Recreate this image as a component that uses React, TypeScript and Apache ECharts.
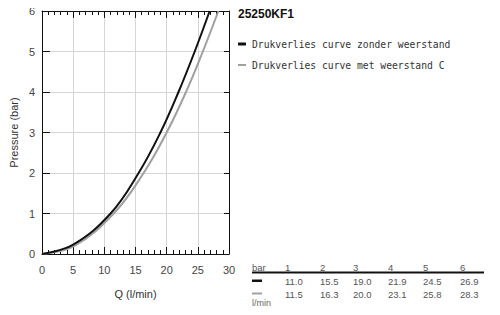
import React, { useEffect, useRef } from "react";
import * as echarts from "echarts";

const title = "25250KF1";
const seriesNames = ["Drukverlies curve zonder weerstand", "Drukverlies curve met weerstand C"];
const pressures = [0, 0.23, 1, 2, 3, 4, 5, 6];
const pressuresGray = [0, 0.2, 1, 2, 3, 4, 5, 6];
const flowBlack = [0, 5, 11.0, 15.5, 19.0, 21.9, 24.5, 26.9];
const flowGray = [0, 5.2, 11.5, 16.3, 20.0, 23.1, 25.8, 28.3];
const tableHeader = ["1", "2", "3", "4", "5", "6"];
const tableBlack = ["11.0", "15.5", "19.0", "21.9", "24.5", "26.9"];
const tableGray = ["11.5", "16.3", "20.0", "23.1", "25.8", "28.3"];
const colors = ["#111111", "#a0a0a0"];

export default function App() {
  const ref = useRef<HTMLDivElement>(null);
  useEffect(() => {
    if (!ref.current) return;
    const chart = echarts.init(ref.current, null, { renderer: "svg" });
    const font = "'Liberation Sans', Arial, sans-serif";
    const colX = [285, 320, 353, 388, 423, 460];
    const graphics: any[] = [];
    graphics.push({ type: "text", left: 238, top: 8, style: { text: title, font: `bold 12px ${font}`, fill: "#111" } });
    seriesNames.forEach((n, i) => {
      const y = 44 + i * 21;
      graphics.push({ type: "rect", shape: { x: 238, y: y - (i === 0 ? 1.5 : 1), width: 8, height: i === 0 ? 3 : 2 }, style: { fill: colors[i] } });
      graphics.push({ type: "text", x: 252, y, style: { text: n, font: `9.7px 'DejaVu Sans Mono', monospace`, fill: "#333", textVerticalAlign: "middle" } });
    });
    const tf = `9.5px ${font}`;
    graphics.push({ type: "text", x: 252, y: 267, style: { text: "bar", font: tf, fill: "#555", textVerticalAlign: "middle" } });
    tableHeader.forEach((t, i) => graphics.push({ type: "text", x: colX[i], y: 267, style: { text: t, font: tf, fill: "#555", textVerticalAlign: "middle" } }));
    graphics.push({ type: "line", shape: { x1: 252, y1: 272.5, x2: 484, y2: 272.5 }, style: { stroke: "#111", lineWidth: 2 } });
    graphics.push({ type: "rect", shape: { x: 252, y: 279.5, width: 10, height: 2.5 }, style: { fill: colors[0] } });
    graphics.push({ type: "rect", shape: { x: 252, y: 292.5, width: 10, height: 2 }, style: { fill: colors[1] } });
    tableBlack.forEach((t, i) => graphics.push({ type: "text", x: colX[i], y: 281, style: { text: t, font: tf, fill: "#555", textVerticalAlign: "middle" } }));
    tableGray.forEach((t, i) => graphics.push({ type: "text", x: colX[i], y: 294, style: { text: t, font: tf, fill: "#555", textVerticalAlign: "middle" } }));
    graphics.push({ type: "text", x: 252, y: 303, style: { text: "l/min", font: `9px ${font}`, fill: "#666", textVerticalAlign: "middle" } });

    const baseX = {
      type: "value", min: 0, max: 30, interval: 5,
      axisLine: { show: true, onZero: false, lineStyle: { color: "#111", width: 1 } },
      axisTick: { show: true, inside: true, length: 7, lineStyle: { color: "#111" } },
      minorTick: { show: true, splitNumber: 5, length: 4, lineStyle: { color: "#111" } },
    };
    const baseY = {
      type: "value", min: 0, max: 6, interval: 1,
      axisLine: { show: true, onZero: false, lineStyle: { color: "#111", width: 1 } },
      axisTick: { show: true, inside: true, length: 8, lineStyle: { color: "#111" } },
    };
    chart.setOption({
      animation: false,
      textStyle: { fontFamily: font },
      grid: { left: 42, top: 11, width: 187, height: 243 },
      xAxis: [
        { ...baseX, position: "bottom", name: "Q (l/min)", nameLocation: "middle", nameGap: 34,
          nameTextStyle: { fontSize: 11, color: "#333", fontFamily: font },
          axisLabel: { fontSize: 11, color: "#444", margin: 10 },
          splitLine: { show: true, lineStyle: { color: "#d6d6d6" } } },
        { ...baseX, position: "top", axisLabel: { show: false }, splitLine: { show: false } },
      ],
      yAxis: [
        { ...baseY, position: "left", name: "Pressure (bar)", nameLocation: "middle", nameGap: 23,
          nameTextStyle: { fontSize: 11, color: "#333", fontFamily: font },
          axisLabel: { fontSize: 11, color: "#444", margin: 7 },
          splitLine: { show: true, lineStyle: { color: "#d6d6d6" } } },
        { ...baseY, position: "right", axisLabel: { show: false }, splitLine: { show: false }, axisTick: { show: true, inside: true, length: 5, lineStyle: { color: "#111" } } },
      ],
      graphic: graphics,
      series: [
        { name: seriesNames[0], type: "line", smooth: 0.4, symbol: "none", data: flowBlack.map((q, i) => [q, pressures[i]]),
          lineStyle: { color: colors[0], width: 2 }, itemStyle: { color: colors[0] }, z: 3 },
        { name: seriesNames[1], type: "line", smooth: 0.4, symbol: "none", data: flowGray.map((q, i) => [q, pressuresGray[i]]),
          lineStyle: { color: colors[1], width: 2 }, itemStyle: { color: colors[1] }, z: 2 },
      ],
    });
    return () => chart.dispose();
  }, []);
  return <div ref={ref} style={{ width: 500, height: 315, margin: -8 }} />;
}
